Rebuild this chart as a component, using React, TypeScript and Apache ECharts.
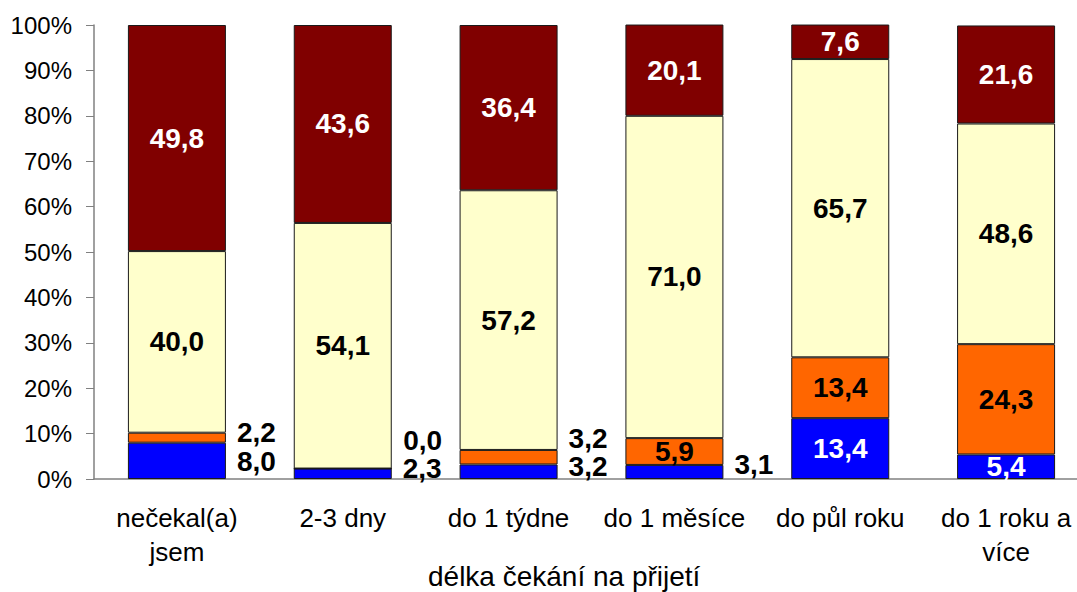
import React, { useEffect, useRef } from "react";
import * as echarts from "echarts";

const categories = [
  "nečekal(a)\njsem",
  "2-3 dny",
  "do 1 týdne",
  "do 1 měsíce",
  "do půl roku",
  "do 1 roku a\nvíce",
];
const blueValues = [8.0, 2.3, 3.2, 3.1, 13.4, 5.4];
const orangeValues = [2.2, 0.0, 3.2, 5.9, 13.4, 24.3];
const yellowValues = [40.0, 54.1, 57.2, 71.0, 65.7, 48.6];
const redValues = [49.8, 43.6, 36.4, 20.1, 7.6, 21.6];
const yTicks = [0, 10, 20, 30, 40, 50, 60, 70, 80, 90, 100];
const xAxisTitle = "délka čekání na přijetí";

// label placement (style): index -> vertical offset when label sits right of bar
const blueOutside: Record<number, number> = { 0: 1, 1: -5, 2: -5, 3: -7 };
const orangeOutside: Record<number, number> = { 0: -5, 1: -28, 2: -19 };

const FONT = 'Arial, "Liberation Sans", sans-serif';

const fmt = (v: number) => v.toFixed(1).replace(".", ",");

function buildData(values: number[], insideColor: string, outside: Record<number, number>) {
  return values.map((v, i) => {
    if (outside[i] !== undefined) {
      return {
        value: v,
        label: {
          show: true,
          position: "right",
          distance: 11,
          offset: [0, outside[i]],
          color: "#000",
          lineHeight: 20,
        },
      };
    }
    return { value: v, label: { show: true, position: "inside", color: insideColor } };
  });
}

export default function App() {
  const ref = useRef<HTMLDivElement>(null);
  useEffect(() => {
    if (!ref.current) return;
    const chart = echarts.init(ref.current, undefined, { renderer: "svg" });
    const labelBase = {
      show: true,
      fontFamily: FONT,
      fontWeight: "bold",
      fontSize: 28,
      formatter: (p: any) => fmt(p.value),
    };
    const mk = (name: string, color: string, data: any[]) => ({
      name,
      type: "bar",
      stack: "total",
      barWidth: 98,
      data,
      itemStyle: { color, borderColor: "#1a1a1a", borderWidth: 1 },
      label: labelBase,
    });
    chart.setOption({
      animation: false,
      backgroundColor: "#fff",
      textStyle: { fontFamily: FONT },
      grid: {
        left: 94,
        width: 995,
        top: 25,
        height: 454,
        containLabel: false,
        outerBoundsMode: "none",
      },
      xAxis: {
        type: "category",
        data: categories,
        axisLine: { lineStyle: { color: "#808080", width: 1.5 } },
        axisTick: { show: false },
        axisLabel: {
          interval: 0,
          color: "#000",
          fontSize: 26,
          lineHeight: 34,
          margin: 22,
          fontFamily: FONT,
        },
      },
      yAxis: {
        type: "value",
        min: 0,
        max: 100,
        interval: 10,
        splitLine: { show: false },
        axisLine: { show: true, lineStyle: { color: "#808080", width: 1.5 } },
        axisTick: { show: true, length: 8, lineStyle: { color: "#808080" } },
        axisLabel: {
          color: "#000",
          fontSize: 24,
          margin: 22,
          fontFamily: FONT,
          formatter: (v: number) => (yTicks.includes(v) ? v + "%" : ""),
        },
      },
      graphic: [
        {
          type: "text",
          left: 428,
          top: 562,
          style: { text: xAxisTitle, fontSize: 28, fontFamily: FONT, fill: "#000" },
        },
      ],
      series: [
        mk("blue", "#0000ff", buildData(blueValues, "#fff", blueOutside)),
        mk("orange", "#ff6600", buildData(orangeValues, "#000", orangeOutside)),
        mk("yellow", "#ffffcc", buildData(yellowValues, "#000", {})),
        mk("red", "#800000", buildData(redValues, "#fff", {})),
      ],
    });
    return () => chart.dispose();
  }, []);
  return (
    <div
      ref={ref}
      style={{ position: "fixed", left: 0, top: 0, width: 1077, height: 592 }}
    />
  );
}
